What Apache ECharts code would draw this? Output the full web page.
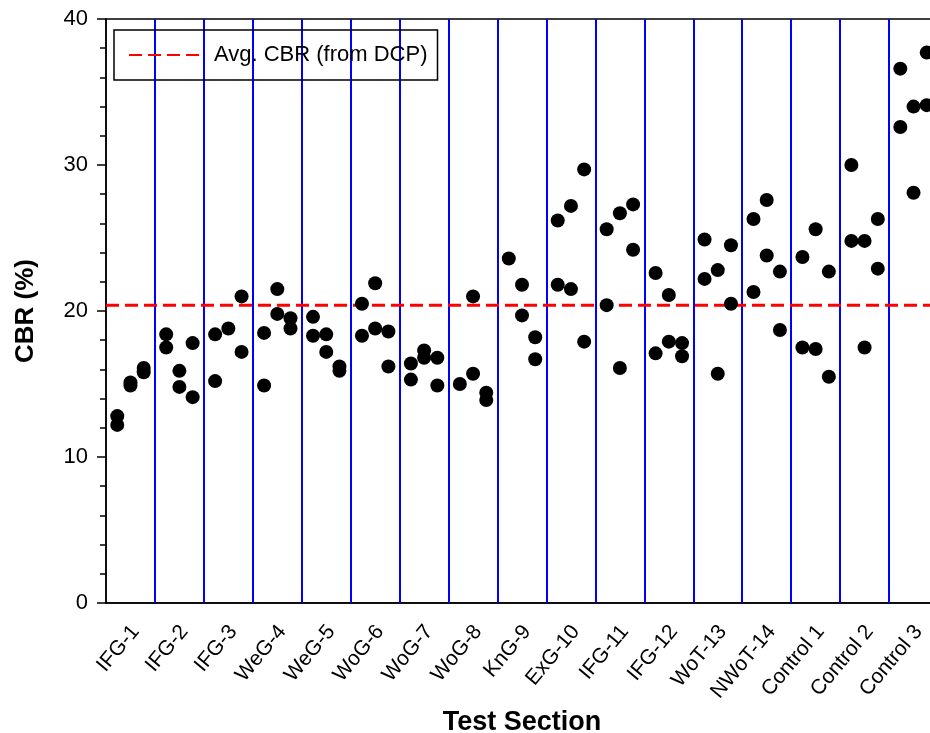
<!DOCTYPE html>
<html>
<head>
<meta charset="utf-8">
<title>CBR by Test Section</title>
<script src="https://cdn.jsdelivr.net/npm/echarts@6/dist/echarts.min.js"></script>
<style>
  html, body { margin: 0; padding: 0; background: #fff; }
  #chart { width: 930px; height: 733px; }
</style>
</head>
<body>
<div id="chart"></div>
<script>
// Test sections along the x axis
const sections = ['IFG-1', 'IFG-2', 'IFG-3', 'WeG-4', 'WeG-5', 'WoG-6', 'WoG-7', 'WoG-8',
  'KnG-9', 'ExG-10', 'IFG-11', 'IFG-12', 'WoT-13', 'NWoT-14', 'Control 1', 'Control 2', 'Control 3'];

// CBR (%) readings per section, grouped by test location within the section
const leftReadings = [
  [12.8, 12.2], [18.4, 17.5], [18.4, 15.2], [18.5, 14.9], [19.6, 18.3], [20.5, 18.3],
  [16.4, 15.3], [15.0], [23.6], [26.2, 21.8], [25.6, 20.4], [22.6, 17.1],
  [24.9, 22.2], [26.3, 21.3], [23.7, 17.5], [30.0, 24.8], [36.6, 32.6]
];
const middleReadings = [
  [15.1, 14.9], [15.9, 14.8], [18.8], [21.5, 19.8], [18.4, 17.2], [21.9, 18.8],
  [17.3, 16.8], [21.0, 15.7], [21.8, 19.7], [27.2, 21.5], [26.7, 16.1], [21.1, 17.9],
  [22.8, 15.7], [27.6, 23.8], [25.6, 17.4], [24.8, 17.5], [34.0, 28.1]
];
const rightReadings = [
  [16.1, 15.8], [17.8, 14.1], [21.0, 17.2], [19.5, 18.8], [16.2, 15.9], [18.6, 16.2],
  [16.8, 14.9], [14.4, 13.9], [18.2, 16.7], [29.7, 17.9], [27.3, 24.2], [17.8, 16.9],
  [24.5, 20.5], [22.7, 18.7], [22.7, 15.5], [26.3, 22.9], [37.7, 34.1]
];

// Average CBR from the DCP tests
const avgCBR = 20.4;
const avgLabel = 'Avg. CBR (from DCP)';

// Y axis ticks
const yTicks = [0, 10, 20, 30, 40];

// Place each location group at a fixed fraction of its section's width
const groups = [leftReadings, middleReadings, rightReadings];
const groupOffsets = [0.23, 0.5, 0.77];
const points = [];
groups.forEach((group, g) => {
  group.forEach((vals, s) => {
    vals.forEach(v => points.push([s + groupOffsets[g], v]));
  });
});

// Section boundaries (vertical blue lines)
const boundaries = [];
for (let k = 1; k < sections.length; k++) boundaries.push({ xAxis: k });

const FONT = 'Liberation Sans, Arial, Helvetica, sans-serif';

const chart = echarts.init(document.getElementById('chart'), null, { renderer: 'canvas' });
chart.setOption({
  animation: false,
  backgroundColor: '#fff',
  textStyle: { fontFamily: FONT, color: '#000' },
  grid: [
    {
      left: 106, width: 832, top: 19, bottom: 130,
      containLabel: false, outerBoundsMode: 'none',
      show: true, borderColor: '#000', borderWidth: 1.5, backgroundColor: 'transparent'
    },
    {
      // holds the section name labels, nudged slightly right of the section centres
      left: 111, width: 832, top: 19, bottom: 130,
      containLabel: false, outerBoundsMode: 'none', show: false
    }
  ],
  legend: {
    data: [avgLabel],
    left: 114, top: 30,
    orient: 'horizontal',
    padding: [14, 10, 14, 14],
    borderColor: '#000', borderWidth: 1.5,
    itemWidth: 74, itemHeight: 14,
    itemStyle: { opacity: 0 },
    textStyle: { fontSize: 22, color: '#000', fontFamily: FONT, padding: [0, 0, 0, 6] }
  },
  xAxis: [
    {
      type: 'value', gridIndex: 0, min: 0, max: sections.length, interval: 1,
      axisLine: { show: true, onZero: false, lineStyle: { color: '#000', width: 1.5 } },
      axisTick: { show: false },
      axisLabel: { show: false },
      splitLine: { show: false },
      name: 'Test Section', nameLocation: 'middle', nameGap: 106,
      nameTextStyle: { fontSize: 27, fontWeight: 'bold', color: '#000', fontFamily: FONT }
    },
    {
      type: 'category', gridIndex: 1, data: sections, boundaryGap: true, position: 'bottom',
      axisLine: { show: false }, axisTick: { show: false }, splitLine: { show: false },
      axisLabel: { rotate: 50, fontSize: 21, color: '#000', margin: 25, interval: 0, fontFamily: FONT }
    }
  ],
  yAxis: [
    {
      type: 'value', gridIndex: 0, min: yTicks[0], max: yTicks[yTicks.length - 1], interval: 10,
      axisLine: { show: true, lineStyle: { color: '#000', width: 1.5 } },
      axisTick: { show: true, inside: false, length: 9, lineStyle: { color: '#000', width: 1.5 } },
      minorTick: { show: true, splitNumber: 5, length: 6, lineStyle: { color: '#000', width: 1.5 } },
      axisLabel: { fontSize: 22, color: '#000', margin: 18, fontFamily: FONT },
      splitLine: { show: false },
      name: 'CBR (%)', nameLocation: 'middle', nameGap: 67,
      nameTextStyle: { fontSize: 26, fontWeight: 'bold', color: '#000', fontFamily: FONT }
    },
    {
      type: 'value', gridIndex: 1, min: yTicks[0], max: yTicks[yTicks.length - 1], show: false
    }
  ],
  series: [
    {
      name: avgLabel,
      type: 'line',
      xAxisIndex: 0, yAxisIndex: 0,
      data: [[0, avgCBR], [sections.length, avgCBR]],
      symbol: 'none',
      lineStyle: { color: '#ff0000', width: 3, type: [13, 6] },
      itemStyle: { color: '#ff0000' },
      z: 2
    },
    {
      name: 'CBR',
      type: 'scatter',
      xAxisIndex: 0, yAxisIndex: 0,
      data: points,
      symbol: 'circle',
      symbolSize: 14,
      itemStyle: { color: '#000', opacity: 1 },
      z: 3,
      markLine: {
        silent: true,
        symbol: ['none', 'none'],
        label: { show: false },
        lineStyle: { color: '#0000ff', width: 2, type: 'solid' },
        data: boundaries,
        z: 1
      }
    }
  ]
});
</script>
</body>
</html>
